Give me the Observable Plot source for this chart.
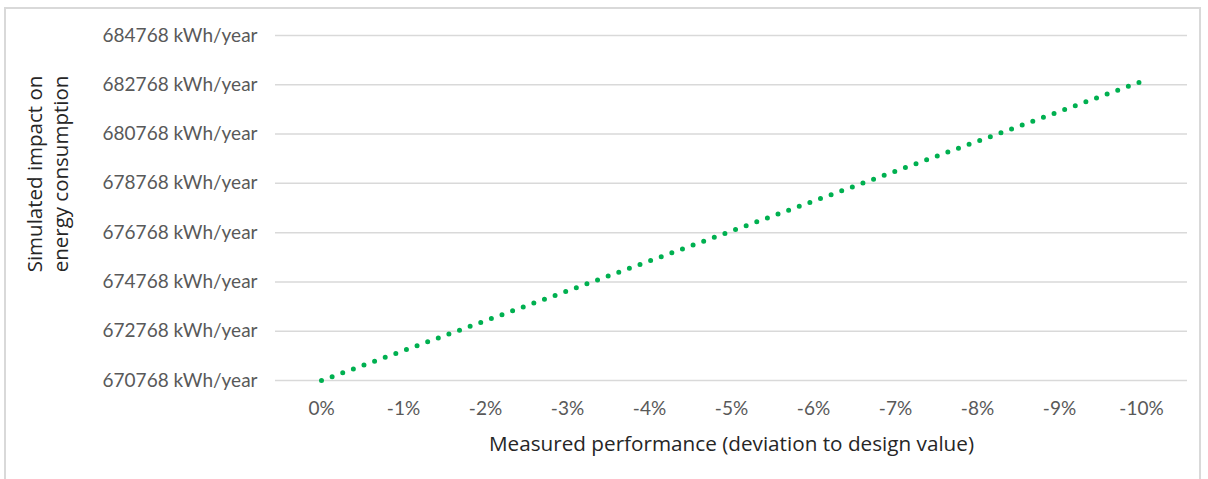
<!DOCTYPE html>
<html>
<head>
<meta charset="utf-8">
<script src="https://cdn.jsdelivr.net/npm/d3@7"></script>
<script src="https://cdn.jsdelivr.net/npm/@observablehq/plot@0.6"></script>
<style>
  html, body { margin: 0; padding: 0; background: #fff; }
  #wrap { position: relative; width: 1208px; height: 479px; overflow: hidden; }
  #border { position: absolute; left: 4px; top: 7px; width: 1197px; height: 490px; border: 2px solid #d9d9d9; box-sizing: border-box; }
  #chart { position: absolute; left: 0; top: 0; }
</style>
</head>
<body>
<div id="wrap"><div id="border"></div><div id="chart"></div></div>
<script>
const categories = ["0%", "-1%", "-2%", "-3%", "-4%", "-5%", "-6%", "-7%", "-8%", "-9%", "-10%"];
const energy = [670768, 671980, 673195, 674405, 675620, 676835, 678045, 679260, 680475, 681685, 682900];
const yTicks = [670768, 672768, 674768, 676768, 678768, 680768, 682768, 684768];
const xTitle = "Measured performance (deviation to design value)";
const yTitle = "Simulated impact on\nenergy consumption";

const data = categories.map((c, i) => ({ c, v: energy[i] }));

const chart = Plot.plot({
  width: 1208,
  height: 479,
  marginLeft: 275,
  marginRight: 21,
  marginTop: 35,
  marginBottom: 99,
  style: { fontFamily: "Lato, sans-serif", background: "transparent" },
  x: { type: "point", domain: categories, padding: 0.5 },
  y: { domain: [670768, 684768] },
  marks: [
    Plot.gridY(yTicks, { stroke: "#d9d9d9", strokeOpacity: 1, strokeWidth: 1.5 }),
    Plot.axisY({ ticks: yTicks, tickFormat: d => d + " kWh/year", tickSize: 0, tickPadding: 18, fontSize: 19, fill: "#595959", label: null }),
    Plot.axisX({ tickSize: 0, tickPadding: 21, fontSize: 19, fill: "#595959", label: null }),
    Plot.line(data, { x: "c", y: "v", stroke: "#00B050", strokeWidth: 5, strokeDasharray: "0 11.3", strokeLinecap: "round" }),
    Plot.text([xTitle], { frameAnchor: "bottom", dy: 70, fontSize: 20.7, fontFamily: "Open Sans, sans-serif", fill: "#262626" }),
    Plot.text([yTitle], { frameAnchor: "left", textAnchor: "middle", lineAnchor: "middle", dx: -229, dy: -34, rotate: -90, fontSize: 20.5, lineHeight: 1.28, fontFamily: "Open Sans, sans-serif", fill: "#262626" })
  ]
});
document.getElementById("chart").appendChild(chart);
</script>
</body>
</html>
